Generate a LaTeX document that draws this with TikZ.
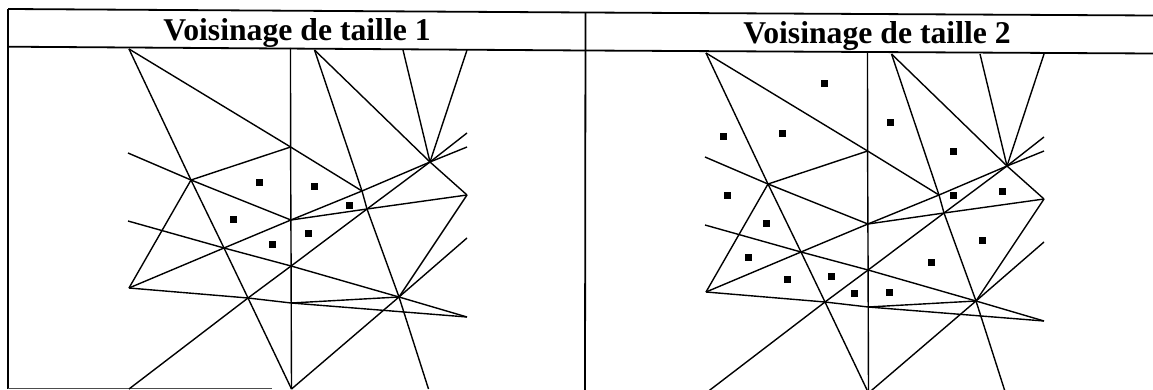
\documentclass[tikz,border=0pt]{standalone}
\usepackage{fontspec}
\setmainfont{Liberation Serif}
\newcommand\meshdrawing{%
  \coordinate (A) at (129,49);
  \coordinate (D) at (314.5,50);
  \coordinate (F) at (403,50);
  \coordinate (G) at (467,50);
  \coordinate (Vt) at (290.5,48);
  \coordinate (B) at (290.6,147);
  \coordinate (C) at (191,180);
  \coordinate (E) at (430,162);
  \coordinate (N) at (362,191);
  \coordinate (M) at (367,209);
  \coordinate (P) at (467,195);
  \coordinate (H) at (290.9,220);
  \coordinate (I) at (224,248);
  \coordinate (L) at (291.1,266);
  \coordinate (J) at (129,288);
  \coordinate (K) at (248,298);
  \coordinate (O) at (399,297);
  \coordinate (Q) at (291.2,303);
  \coordinate (R) at (467,317);
  \coordinate (T) at (291.5,389);
  \coordinate (W1) at (128,153);
  \coordinate (W2) at (128,221);
  \coordinate (BL) at (129,389);
  \coordinate (E1) at (467,147);
  \coordinate (E2) at (467,133);
  \coordinate (S1) at (467,238);
  \coordinate (DB) at (428.5,389);
  \draw[mesh] (Vt) -- (B) -- (H) -- (L) -- (Q) -- (T);
  \draw[mesh] (A) -- (C) -- (I) -- (K) -- (T);
  \draw[mesh] (A) -- (B) -- (N);
  \draw[mesh] (B) -- (C);
  \draw[mesh] (W1) -- (C) -- (H);
  \draw[mesh] (H) -- (M) -- (P);
  \draw[mesh] (W2) -- (I) -- (L) -- (O) -- (R);
  \draw[mesh] (J) -- (I) -- (H) -- (N) -- (E) -- (E1);
  \draw[mesh] (BL) -- (K) -- (L) -- (M) -- (E) -- (E2);
  \draw[mesh] (D) -- (N) -- (M) -- (O) -- (DB);
  \draw[mesh] (D) -- (E);
  \draw[mesh] (F) -- (E);
  \draw[mesh] (G) -- (E);
  \draw[mesh] (E) -- (P);
  \draw[mesh] (P) -- (O);
  \draw[mesh] (T) -- (O) -- (S1);
  \draw[mesh] (C) -- (J);
  \draw[mesh] (J) -- (K) -- (Q);
  \draw[mesh] (Q) -- (O);
  \draw[mesh] (Q) -- (R);
}
\begin{document}
\begin{tikzpicture}[x=1pt,y=-1pt,
  mesh/.style={line width=1.4pt, line join=round},
  frame/.style={line width=1.8pt},
  title/.style={font=\fontsize{31.7}{36}\selectfont\bfseries, anchor=base, inner sep=0pt},
  dot/.style={rectangle, fill=black, minimum size=7pt, inner sep=0pt}]
\useasboundingbox (0,0) rectangle (1153,390);
\clip (0,0) rectangle (1153,390);
% frame
\coordinate (tl) at (8,9);
\coordinate (tm) at (585.5,12.5);
\coordinate (tr) at (1153,15.5);
\coordinate (hl) at (8,46.7);
\coordinate (hm) at (585.5,50.5);
\coordinate (hr) at (1153,53.5);
\coordinate (bl) at (8,388.8);
\coordinate (bm) at (585,390);
\coordinate (be) at (272,388.8);
\draw[frame] (tl) -- (tm) -- (tr);
\draw[frame] (hl) -- (hm) -- (hr);
\draw[frame] (tl) -- (bl);
\draw[frame] (tm) -- (bm);
\draw[line width=1.2pt, black!70] (bl) -- (be);
% titles
\node[title] (t1) at (297,41) {Voisinage de taille 1};
\node[title] (t2) at (877,44) {Voisinage de taille 2};
% left panel
\begin{scope}
\meshdrawing
\end{scope}
\node[dot] (a1) at (259,183) {};
\node[dot] (a2) at (314,187) {};
\node[dot] (a3) at (349,205) {};
\node[dot] (a4) at (233.5,219) {};
\node[dot] (a5) at (308,233) {};
\node[dot] (a6) at (272,244.5) {};
% right panel
\begin{scope}[shift={(577,4)}]
\meshdrawing
\end{scope}
\node[dot] (b1) at (824,84) {};
\node[dot] (b2) at (723,137) {};
\node[dot] (b3) at (782,134) {};
\node[dot] (b4) at (890,123) {};
\node[dot] (b5) at (953,152) {};
\node[dot] (b6) at (727,196) {};
\node[dot] (b7) at (953,196) {};
\node[dot] (b8) at (1002,192) {};
\node[dot] (b9) at (766,223) {};
\node[dot] (b10) at (748,257) {};
\node[dot] (b11) at (787,279) {};
\node[dot] (b12) at (831,276) {};
\node[dot] (b13) at (854,293) {};
\node[dot] (b14) at (889,292) {};
\node[dot] (b15) at (931,262) {};
\node[dot] (b16) at (982,240) {};
\end{tikzpicture}
\end{document}
